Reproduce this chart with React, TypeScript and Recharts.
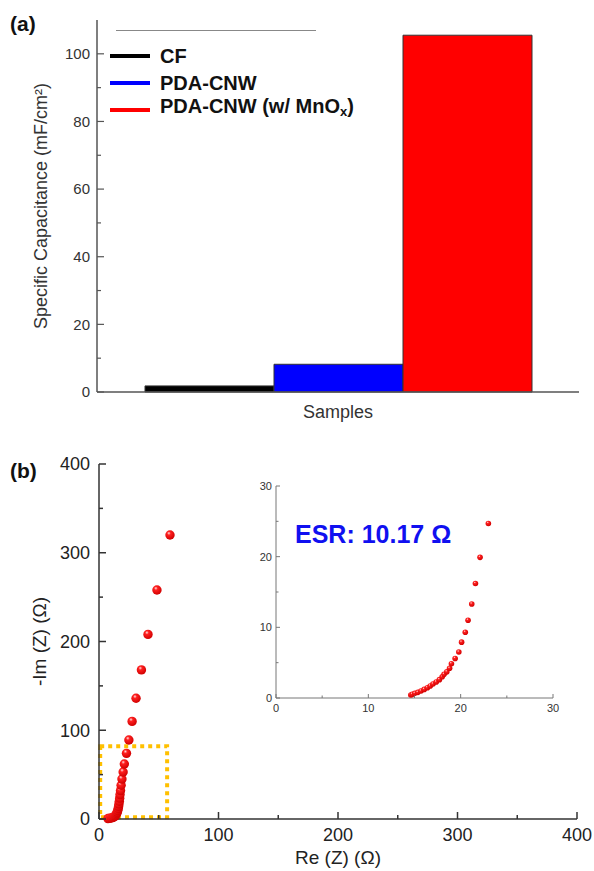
import React from 'react';
import {
  BarChart, Bar, XAxis, YAxis, Legend,
  ScatterChart, Scatter, ReferenceArea
} from 'recharts';

const FONT = '"Liberation Sans", Arial, Helvetica, sans-serif';

// (a) specific capacitance per sample
const sampleNames = ['CF', 'PDA-CNW', 'PDA-CNW (w/ MnOx)'];
const sampleKeys = ['cf', 'pda', 'pdaMn'];
const capacitance = [1.8, 8.2, 105.5];
const sampleColors = ['#000000', '#0000ff', '#ff0000'];
const capTicks = [0, 10, 20, 30, 40, 50, 60, 70, 80, 90, 100];

// (b) Nyquist plot, main view
const mainRe = [7.5, 9, 10.5, 11.8, 12.8, 13.6, 14.2, 14.8, 15.3, 15.7, 16.1, 16.4, 16.7, 17, 17.3, 17.6, 18, 18.5, 19.2, 20.2, 21.2, 23, 25, 27.7, 31, 35.5, 41, 48.5, 59.4];
const mainIm = [0.5, 0.8, 1.2, 1.8, 2.6, 3.6, 4.8, 6.2, 7.8, 9.6, 11.8, 14.2, 17, 20, 23.5, 27.5, 32, 38, 45, 53, 62, 74, 89, 110, 136, 168, 208, 258, 320];
const nyqTicks = [0, 50, 100, 150, 200, 250, 300, 350, 400];

// (b) inset, zoom near the origin
const insetRe = [14.6, 14.75, 15.03, 15.36, 15.7, 16.05, 16.4, 16.7, 17.0, 17.35, 17.7, 18.0, 18.2, 18.5, 18.8, 19.0, 19.4, 19.8, 20.1, 20.5, 20.8, 21.2, 21.6, 22.1, 23.0, 23.45];
const insetIm = [0.42, 0.52, 0.66, 0.8, 0.99, 1.22, 1.46, 1.7, 1.98, 2.26, 2.6, 3.0, 3.35, 3.7, 4.2, 4.85, 5.6, 6.5, 7.9, 9.3, 11.0, 13.3, 16.2, 19.9, 24.7, 30.4];
const insetTicks = [0, 5, 10, 15, 20, 25, 30];

const barRow: Record<string, any> = { group: 'Samples' };
sampleKeys.forEach((k, i) => { barRow[k] = capacitance[i]; });
const barData = [barRow];

const mainData = mainRe.map((x, i) => ({ x, y: mainIm[i] }));
const insetData = insetRe.map((x, i) => ({ x, y: insetIm[i] }));

type Side = 'left' | 'right' | 'top' | 'bottom';
interface TickCfg {
  every: number;
  major: number;
  minor: number;
  size: number;
  gap: number;
  color: string;
  stroke: string;
  sw: number;
  label: boolean;
}

// ticks drawn pointing into the plot, labels only on majors
const inTick = (side: Side, cfg: TickCfg) => (props: any) => {
  const { x, y, payload } = props;
  const v = Number(payload.value);
  const r = v / cfg.every;
  const isMajor = Math.abs(r - Math.round(r)) < 1e-6;
  const len = isMajor ? cfg.major : cfg.minor;
  let x2 = x;
  let y2 = y;
  if (side === 'left') x2 = x + len;
  if (side === 'right') x2 = x - len;
  if (side === 'top') y2 = y + len;
  if (side === 'bottom') y2 = y - len;
  let label = null;
  if (cfg.label && isMajor) {
    if (side === 'left') {
      label = (
        <text x={x - cfg.gap} y={y} dy="0.36em" textAnchor="end" fontSize={cfg.size} fill={cfg.color} fontFamily={FONT}>
          {v}
        </text>
      );
    } else if (side === 'bottom') {
      label = (
        <text x={x} y={y + cfg.gap} dy="0.72em" textAnchor="middle" fontSize={cfg.size} fill={cfg.color} fontFamily={FONT}>
          {v}
        </text>
      );
    }
  }
  return (
    <g>
      <line x1={x} y1={y} x2={x2} y2={y2} stroke={cfg.stroke} strokeWidth={cfg.sw} />
      {label}
    </g>
  );
};

const Ball = (r: number) => (props: any) => {
  const { cx, cy } = props;
  if (cx == null || cy == null) return <g />;
  return <circle cx={cx} cy={cy} r={r} fill="url(#ballGrad)" />;
};

const renderName = (name: string) => {
  if (name.indexOf('MnOx') < 0) return name;
  const [pre, post] = name.split('MnOx');
  return (
    <>
      {pre}MnO<sub style={{ fontSize: '0.65em', verticalAlign: '-0.25em' }}>x</sub>{post}
    </>
  );
};

const CapLegend = (props: any) => {
  const items = props.payload || [];
  return (
    <div style={{ fontFamily: FONT, width: 280 }}>
      <div style={{ marginLeft: 6, width: 200, borderTop: '1px solid #888', height: 11 }} />
      {items.map((it: any, i: number) => (
        <div key={`lg-${i}`} style={{ display: 'flex', alignItems: 'center', height: 27 }}>
          <div style={{ width: 40, height: 4, background: it.color, marginRight: 10 }} />
          <span style={{ fontSize: 20, fontWeight: 'bold', color: '#111', lineHeight: '20px', whiteSpace: 'nowrap' }}>
            {renderName(String(it.value))}
          </span>
        </div>
      ))}
    </div>
  );
};

const panelLabel: React.CSSProperties = {
  position: 'absolute',
  left: 10,
  fontFamily: FONT,
  fontWeight: 'bold',
  fontSize: 21,
  lineHeight: '21px',
  color: '#111',
};

const App: React.FC = () => {
  const capTick = { every: 20, major: 7, minor: 4, size: 15, gap: 7, color: '#333', stroke: '#555', sw: 1.2, label: true };
  const nyqTickL = { every: 100, major: 7, minor: 4, size: 18, gap: 9, color: '#222', stroke: '#333', sw: 1.5, label: true };
  const nyqTickB = { ...nyqTickL, gap: 9 };
  const nyqTickM = { ...nyqTickL, label: false };
  const insTickL = { every: 10, major: 4, minor: 2.5, size: 11, gap: 4, color: '#333', stroke: '#777', sw: 1, label: true };
  const insTickB = { ...insTickL, gap: 6 };
  const insTickM = { ...insTickL, label: false };

  return (
    <div style={{ position: 'absolute', left: 0, top: 0, width: 594, height: 871, background: '#fff', fontFamily: FONT }}>
      <svg width={0} height={0} style={{ position: 'absolute' }}>
        <defs>
          <radialGradient id="ballGrad" cx="40%" cy="35%" r="65%" fx="38%" fy="30%">
            <stop offset="0%" stopColor="#ffe0e0" />
            <stop offset="30%" stopColor="#ff2020" />
            <stop offset="100%" stopColor="#d00000" />
          </radialGradient>
        </defs>
      </svg>

      {/* (a) */}
      <div style={{ position: 'absolute', left: 0, top: 0 }}>
        <BarChart
          width={594}
          height={430}
          data={barData}
          margin={{ top: 20, right: 15, bottom: 0, left: 37 }}
          barCategoryGap={48}
          barGap={0}
        >
          <XAxis
            dataKey="group"
            height={38}
            tick={false}
            tickLine={false}
            axisLine={{ stroke: '#555', strokeWidth: 1.5 }}
            label={{ value: 'Samples', position: 'insideBottom', offset: 12, fontSize: 18, fill: '#333', fontFamily: FONT }}
          />
          <XAxis xAxisId="top" orientation="top" dataKey="group" height={0} tick={false} tickLine={false} axisLine={{ stroke: '#555', strokeWidth: 1.5 }} />
          <YAxis
            type="number"
            domain={[0, 110]}
            ticks={capTicks}
            interval={0}
            width={60}
            tickSize={0}
            tickMargin={0}
            tickLine={false}
            axisLine={{ stroke: '#555', strokeWidth: 1.5 }}
            tick={inTick('left', capTick)}
            label={{ value: 'Specific Capacitance (mF/cm²)', angle: -90, position: 'insideLeft', offset: 4, fontSize: 18, fill: '#333', fontFamily: FONT, style: { textAnchor: 'middle' } }}
          />
          <YAxis yAxisId="right" orientation="right" domain={[0, 110]} width={0} tick={false} tickLine={false} axisLine={{ stroke: '#555', strokeWidth: 1.5 }} />
          <Legend
            layout="vertical"
            align="center"
            verticalAlign="middle"
            wrapperStyle={{ position: 'absolute', left: 110, top: 30, width: 280 }}
            content={<CapLegend />}
          />
          {sampleKeys.map((k, i) => (
            <Bar key={k} dataKey={k} name={sampleNames[i]} fill={sampleColors[i]} stroke="#333" strokeWidth={1} isAnimationActive={false} />
          ))}
        </BarChart>
      </div>

      {/* (b) main */}
      <div style={{ position: 'absolute', left: 0, top: 430 }}>
        <ScatterChart width={594} height={441} margin={{ top: 34, right: 17, bottom: 0, left: 39 }}>
          <XAxis
            type="number"
            dataKey="x"
            domain={[0, 400]}
            ticks={nyqTicks}
            interval={0}
            height={52}
            tickSize={0}
            tickMargin={0}
            tickLine={false}
            axisLine={{ stroke: '#333', strokeWidth: 1.5 }}
            tick={inTick('bottom', nyqTickB)}
            label={{ value: 'Re (Z) (Ω)', position: 'insideBottom', offset: 7, fontSize: 19, fill: '#222', fontFamily: FONT }}
          />
          <XAxis xAxisId="top" orientation="top" type="number" domain={[0, 400]} ticks={nyqTicks} interval={0} height={0} tickSize={0} tickMargin={0} tickLine={false} axisLine={{ stroke: '#333', strokeWidth: 1.5 }} tick={inTick('top', nyqTickM)} />
          <YAxis
            type="number"
            dataKey="y"
            domain={[0, 400]}
            ticks={nyqTicks}
            interval={0}
            width={60}
            tickSize={0}
            tickMargin={0}
            tickLine={false}
            axisLine={{ stroke: '#333', strokeWidth: 1.5 }}
            tick={inTick('left', nyqTickL)}
            label={{ value: '-Im (Z) (Ω)', angle: -90, position: 'insideLeft', offset: 0, fontSize: 19, fill: '#222', fontFamily: FONT, style: { textAnchor: 'middle' } }}
          />
          <YAxis yAxisId="right" orientation="right" type="number" domain={[0, 400]} ticks={nyqTicks} interval={0} width={0} tickSize={0} tickMargin={0} tickLine={false} axisLine={{ stroke: '#333', strokeWidth: 1.5 }} tick={inTick('right', nyqTickM)} />
          <ReferenceArea x1={1} x2={57} y1={2} y2={82} fill="none" fillOpacity={0} stroke="#ffc000" strokeWidth={4} strokeDasharray="4 4" />
          <Scatter data={mainData} fill="#ff0000" shape={Ball(4.7)} isAnimationActive={false} />
        </ScatterChart>
      </div>

      {/* (b) inset */}
      <div style={{ position: 'absolute', left: 250, top: 470, background: 'transparent' }}>
        <ScatterChart width={320} height={250} margin={{ top: 16, right: 17, bottom: 0, left: 6 }}>
          <XAxis
            type="number"
            dataKey="x"
            domain={[0, 30]}
            ticks={insetTicks}
            interval={0}
            height={22}
            tickSize={0}
            tickMargin={0}
            tickLine={false}
            axisLine={{ stroke: '#777', strokeWidth: 1 }}
            tick={inTick('bottom', insTickB)}
          />
          <XAxis xAxisId="top" orientation="top" type="number" domain={[0, 30]} ticks={insetTicks} interval={0} height={0} tickSize={0} tickMargin={0} tickLine={false} axisLine={{ stroke: '#777', strokeWidth: 1 }} tick={inTick('top', insTickM)} />
          <YAxis
            type="number"
            dataKey="y"
            domain={[0, 30]}
            allowDataOverflow
            ticks={insetTicks}
            interval={0}
            width={20}
            tickSize={0}
            tickMargin={0}
            tickLine={false}
            axisLine={{ stroke: '#777', strokeWidth: 1 }}
            tick={inTick('left', insTickL)}
          />
          <YAxis yAxisId="right" orientation="right" type="number" domain={[0, 30]} ticks={insetTicks} interval={0} width={0} tickSize={0} tickMargin={0} tickLine={false} axisLine={{ stroke: '#777', strokeWidth: 1 }} tick={inTick('right', insTickM)} />
          <Scatter data={insetData} fill="#ff0000" shape={Ball(2.8)} isAnimationActive={false} />
        </ScatterChart>
      </div>

      <div style={{ position: 'absolute', left: 295, top: 522, fontFamily: FONT, fontWeight: 'bold', fontSize: 25, lineHeight: '25px', color: '#1010f0', whiteSpace: 'nowrap' }}>
        ESR: 10.17 Ω
      </div>

      <div style={{ ...panelLabel, top: 13 }}>(a)</div>
      <div style={{ ...panelLabel, top: 460 }}>(b)</div>
    </div>
  );
};

export default App;
